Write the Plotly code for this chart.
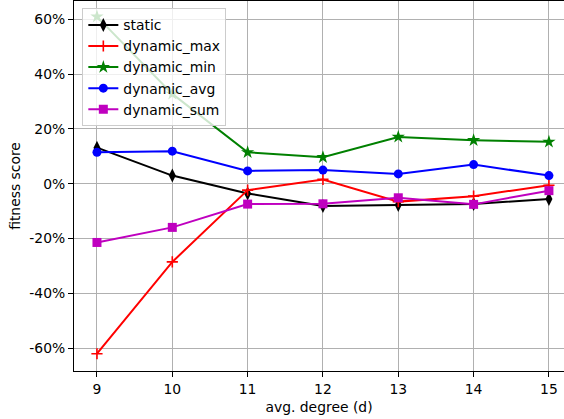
import plotly.graph_objects as go

degrees = [9, 10, 11, 12, 13, 14, 15]
static = [0.132, 0.030, -0.035, -0.081, -0.077, -0.074, -0.055]
dynamic_max = [-0.620, -0.285, -0.023, 0.016, -0.065, -0.045, -0.005]
dynamic_min = [0.610, 0.328, 0.115, 0.097, 0.171, 0.159, 0.153]
dynamic_avg = [0.115, 0.119, 0.047, 0.050, 0.036, 0.070, 0.030]
dynamic_sum = [-0.214, -0.159, -0.074, -0.073, -0.051, -0.075, -0.025]

y_tickvals = [-0.6, -0.4, -0.2, 0.0, 0.2, 0.4, 0.6]
y_ticktext = ["-60%", "-40%", "-20%", "0%", "20%", "40%", "60%"]

series = [
    ("static", static, "black", "diamond-tall", 10),
    ("dynamic_max", dynamic_max, "red", "cross-thin", 8),
    ("dynamic_min", dynamic_min, "green", "star", 10),
    ("dynamic_avg", dynamic_avg, "blue", "circle", 9),
    ("dynamic_sum", dynamic_sum, "#bf00bf", "square", 9),
]

fig = go.Figure()
for name, vals, color, sym, size in series:
    marker = dict(symbol=sym, size=size, color=color)
    if sym == "cross-thin":
        marker["line"] = dict(color=color, width=1.6)
    fig.add_trace(go.Scatter(
        x=degrees, y=vals, name=name, mode="lines+markers",
        line=dict(color=color, width=2), marker=marker,
    ))

font = dict(family="DejaVu Sans", size=13.9, color="black")
fig.update_layout(
    width=564, height=419,
    margin=dict(l=74, r=0, t=1, b=48),
    plot_bgcolor="white", paper_bgcolor="white",
    font=font,
    showlegend=True,
    legend=dict(
        x=0.017, y=0.98, xanchor="left", yanchor="top",
        bgcolor="rgba(255,255,255,0.8)", bordercolor="#cccccc", borderwidth=1,
        font=font, itemwidth=30,
    ),
    xaxis=dict(
        range=[8.695, 15.2], tickvals=degrees, ticktext=[str(d) for d in degrees],
        showgrid=True, gridcolor="#b0b0b0", gridwidth=1,
        showline=True, linecolor="black", linewidth=1, mirror=True,
        ticks="outside", ticklen=5, tickcolor="black",
        zeroline=False, automargin=False,
        title=dict(text="avg. degree (d)", font=font, standoff=6),
    ),
    yaxis=dict(
        range=[-0.683, 0.667], tickvals=y_tickvals, ticktext=y_ticktext,
        showgrid=True, gridcolor="#b0b0b0", gridwidth=1,
        showline=True, linecolor="black", linewidth=1, mirror=True,
        ticks="outside", ticklen=5, tickcolor="black",
        zeroline=False, automargin=False,
        title=dict(text="fitness score", font=font, standoff=5),
    ),
)

fig.write_html("out.html", config={"displayModeBar": False},
               post_script="document.body.style.margin='0';document.body.style.overflow='hidden';")
